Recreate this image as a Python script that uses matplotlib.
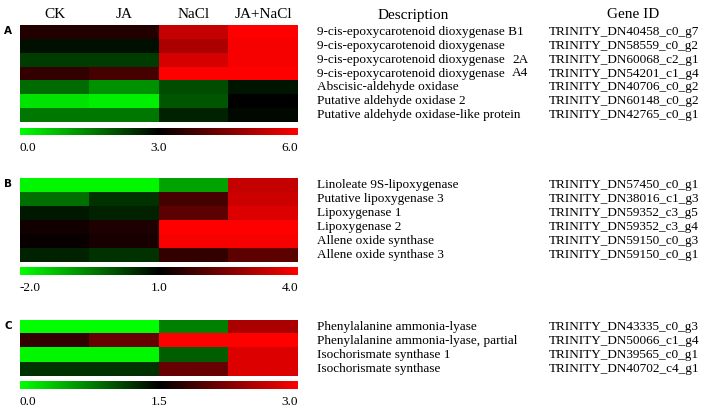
import numpy as np
import matplotlib
matplotlib.use("Agg")
import matplotlib.pyplot as plt
from matplotlib.colors import LinearSegmentedColormap, Normalize
from matplotlib.cm import ScalarMappable

# ── Data ─────────────────────────────────────────────────────────────────────
conditions = ["CK", "JA", "NaCl", "JA+NaCl"]

desc_a = ["9-cis-epoxycarotenoid dioxygenase B1",
          "9-cis-epoxycarotenoid dioxygenase",
          "9-cis-epoxycarotenoid dioxygenase",
          "9-cis-epoxycarotenoid dioxygenase",
          "Abscisic-aldehyde oxidase",
          "Putative aldehyde oxidase 2",
          "Putative aldehyde oxidase-like protein"]
suffix_a = {2: "2A", 3: "A4"}
ids_a = ["TRINITY_DN40458_c0_g7", "TRINITY_DN58559_c0_g2", "TRINITY_DN60068_c2_g1",
         "TRINITY_DN54201_c1_g4", "TRINITY_DN40706_c0_g2", "TRINITY_DN60148_c0_g2",
         "TRINITY_DN42765_c0_g1"]
vals_a = [[3.4, 3.4, 5.3, 6.0],
          [2.8, 2.8, 5.0, 5.9],
          [2.3, 2.3, 5.5, 5.9],
          [3.6, 3.8, 6.0, 6.0],
          [1.75, 1.3, 2.1, 2.75],
          [0.35, 0.2, 2.0, 3.0],
          [1.6, 1.6, 2.6, 2.9]]

desc_b = ["Linoleate 9S-lipoxygenase", "Putative lipoxygenase 3", "Lipoxygenase 1",
          "Lipoxygenase 2", "Allene oxide synthase", "Allene oxide synthase 3"]
ids_b = ["TRINITY_DN57450_c0_g1", "TRINITY_DN38016_c1_g3", "TRINITY_DN59352_c3_g5",
         "TRINITY_DN59352_c3_g4", "TRINITY_DN59150_c0_g3", "TRINITY_DN59150_c0_g1"]
vals_b = [[-1.9, -1.9, -0.9, 3.3],
          [-0.3, 0.4, 1.8, 3.4],
          [0.7, 0.6, 2.1, 3.6],
          [1.2, 1.35, 4.0, 4.0],
          [1.1, 1.3, 3.9, 3.9],
          [0.6, 0.4, 1.6, 2.1]]

desc_c = ["Phenylalanine ammonia-lyase", "Phenylalanine ammonia-lyase, partial",
          "Isochorismate synthase 1", "Isochorismate synthase"]
ids_c = ["TRINITY_DN43335_c0_g3", "TRINITY_DN50066_c1_g4", "TRINITY_DN39565_c0_g1",
         "TRINITY_DN40702_c4_g1"]
vals_c = [[0.0, 0.0, 0.75, 2.5],
          [1.8, 2.1, 3.0, 3.0],
          [0.05, 0.05, 0.95, 2.8],
          [1.2, 1.2, 2.1, 2.8]]

scales = {"A": (0.0, 3.0, 6.0), "B": (-2.0, 1.0, 4.0), "C": (0.0, 1.5, 3.0)}

# ── Layout helpers (pixel -> figure fraction) ───────────────────────────────
W, H = 708, 408
def fx(x): return x / W
def fy(y): return 1 - y / H
def box(x0, y0, x1, y1):
    return [fx(x0), fy(y1), (x1 - x0) / W, (y1 - y0) / H]

SERIF = "Liberation Serif"
cmap = LinearSegmentedColormap.from_list("gkr", ["#00ff00", "#000000", "#ff0000"])

fig = plt.figure(figsize=(7.08, 4.08), dpi=100, facecolor="white")

panels = [
    ("A", vals_a, desc_a, ids_a, 25, 122, 128, 135),
    ("B", vals_b, desc_b, ids_b, 178, 262, 267, 275),
    ("C", vals_c, desc_c, ids_c, 320, 376, 381, 389),
]

X0, X1 = 20, 298
for key, vals, desc, ids, y0, y1, cy0, cy1 in panels:
    lo, mid, hi = scales[key]
    ax = fig.add_axes(box(X0, y0, X1, y1))
    ax.imshow(np.array(vals), cmap=cmap, vmin=lo, vmax=hi,
              aspect="auto", interpolation="nearest")
    ax.axis("off")

    cax = fig.add_axes(box(X0, cy0, X1, cy1))
    cb = fig.colorbar(ScalarMappable(norm=Normalize(lo, hi), cmap=cmap),
                      cax=cax, orientation="horizontal")
    cb.outline.set_visible(False)
    cb.set_ticks([lo, mid, hi])
    cb.set_ticklabels([f"{lo:.1f}", f"{mid:.1f}", f"{hi:.1f}"])
    cax.tick_params(length=0, pad=5, labelsize=9.5)
    labs = cax.get_xticklabels()
    for t in labs:
        t.set_fontfamily(SERIF)
    labs[0].set_ha("left")
    labs[-1].set_ha("right")

    fig.text(fx(8), fy(y0 + 6), key, fontsize=7.5, fontweight="bold",
             family="DejaVu Sans", ha="center", va="center")

    n = len(vals)
    rh = (y1 - y0) / n
    for i in range(n):
        yc = y0 + rh * (i + 0.5)
        fig.text(fx(317), fy(yc), desc[i], family=SERIF, fontsize=9.5,
                 ha="left", va="center")
        fig.text(fx(549), fy(yc), ids[i], family=SERIF, fontsize=9.5,
                 ha="left", va="center")
        if key == "A" and i in suffix_a:
            fig.text(fx(512), fy(yc), suffix_a[i], family=SERIF, fontsize=9.5,
                     ha="left", va="center")

# column headers
col_w = (X1 - X0) / len(conditions)
for j, c in enumerate(conditions):
    fig.text(fx(X0 + col_w * (j + 0.5)), fy(15), c, family=SERIF,
             fontsize=11, ha="center", va="center")
fig.text(fx(413), fy(15), "Description", family=SERIF, fontsize=11,
         ha="center", va="center")
fig.text(fx(633), fy(15), "Gene ID", family=SERIF, fontsize=11,
         ha="center", va="center")

fig.savefig("out.png", dpi=100, facecolor="white")
